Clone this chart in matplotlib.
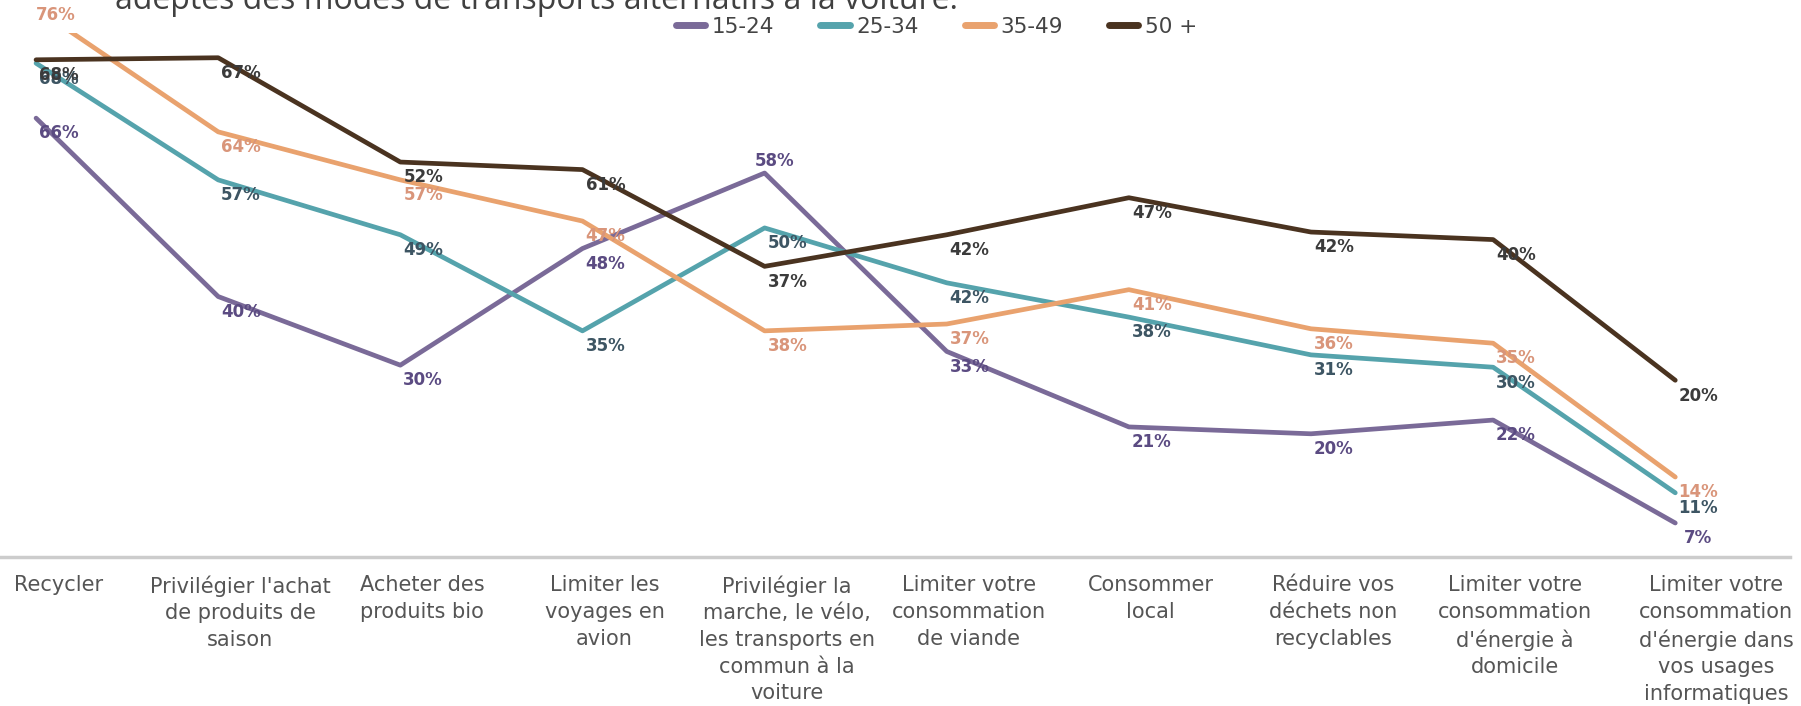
import matplotlib
matplotlib.use("Agg")
import matplotlib.pyplot as plt
from matplotlib.transforms import ScaledTranslation

# ---------------- data ----------------
categories = [
    "Recycler",
    "Privilégier l'achat\nde produits de\nsaison",
    "Acheter des\nproduits bio",
    "Limiter les\nvoyages en\navion",
    "Privilégier la\nmarche, le vélo,\nles transports en\ncommun à la\nvoiture",
    "Limiter votre\nconsommation\nde viande",
    "Consommer\nlocal",
    "Réduire vos\ndéchets non\nrecyclables",
    "Limiter votre\nconsommation\nd'énergie à\ndomicile",
    "Limiter votre\nconsommation\nd'énergie dans\nvos usages\ninformatiques",
]
series_names = ["15-24", "25-34", "35-49", "50 +"]

# line values as drawn in the picture (%)
v_15_24 = [66, 40, 30, 47, 58, 32, 21, 20, 22, 7]
v_25_34 = [74, 57, 49, 35, 50, 42, 37, 31.5, 29.7, 11.4]
v_35_49 = [82, 64, 57, 51, 35, 36, 41, 35.3, 33.2, 13.7]
v_50p = [74.5, 74.8, 59.6, 58.5, 44.4, 49, 54.4, 49.4, 48.3, 27.8]

# data labels as printed in the picture
l_15_24 = ["66%", "40%", "30%", "48%", "58%", "33%", "21%", "20%", "22%", "7%"]
l_25_34 = ["68%", "57%", "49%", "35%", "50%", "42%", "38%", "31%", "30%", "11%"]
l_35_49 = ["76%", "64%", "57%", "47%", "38%", "37%", "41%", "36%", "35%", "14%"]
l_50p = ["68%", "67%", "52%", "61%", "37%", "42%", "47%", "42%", "40%", "20%"]

title_fragment = "adeptes des modes de transports alternatifs à la voiture."

# ---------------- style ----------------
line_colors = ["#7a6a98", "#55a3ac", "#e9a26e", "#4a3320"]
label_colors = ["#5b4b82", "#3d5563", "#d9957a", "#3b3b3b"]

values = [v_15_24, v_25_34, v_35_49, v_50p]
labels = [l_15_24, l_25_34, l_35_49, l_50p]

default_offset = (16.5, -11)
special_offsets = {(0, 4): (7, 9), (2, 0): (14, 25)}
special_anchor = {(2, 0): 76}

fig = plt.figure(figsize=(18.01, 7.06), dpi=100)
ax = fig.add_axes([0.0, 0.2110, 0.9939, 0.7422])

x = list(range(len(categories)))
for s, (vals, name) in enumerate(zip(values, series_names)):
    ax.plot(x, vals, color=line_colors[s], lw=3.4, label=name,
            solid_capstyle="round", zorder=2 + s)

for s, labs in enumerate(labels):
    for i, txt in enumerate(labs):
        yv = special_anchor.get((s, i), values[s][i])
        off = special_offsets.get((s, i), default_offset)
        ax.annotate(txt, xy=(i, yv), xytext=off, textcoords="offset points",
                    ha="center", va="center", fontsize=12, fontweight="bold",
                    color=label_colors[s], annotation_clip=False, zorder=10)

ax.set_xlim(-0.198, 9.63)
ax.set_ylim(2.04, 78.4)
for side in ["top", "right", "left"]:
    ax.spines[side].set_visible(False)
ax.spines["bottom"].set_color("#cccccc")
ax.spines["bottom"].set_linewidth(2.5)
ax.set_yticks([])
ax.set_xticks(x)
ax.set_xticklabels(categories, fontsize=15, color="#555555", linespacing=1.42)
ax.tick_params(axis="x", length=0, pad=13)
ticklabels = ax.get_xticklabels()
for k, lab in enumerate(ticklabels):
    dx = 0.41 if k == len(ticklabels) - 1 else 0.22
    lab.set_transform(lab.get_transform() + ScaledTranslation(dx, 0, fig.dpi_scale_trans))

leg = fig.legend(loc="center", bbox_to_anchor=(0.520, 0.962), ncol=4,
                 frameon=False, fontsize=15.5, handlelength=1.35,
                 handletextpad=0.3, columnspacing=2.15)
for t in leg.get_texts():
    t.set_color("#444444")
for h in leg.get_lines():
    h.set_linewidth(5)

fig.text(115 / 1801, 1 - 9 / 706, title_fragment, fontsize=23,
         family="Open Sans", color="#404040", va="baseline", ha="left")

fig.savefig("out.png", dpi=100)
